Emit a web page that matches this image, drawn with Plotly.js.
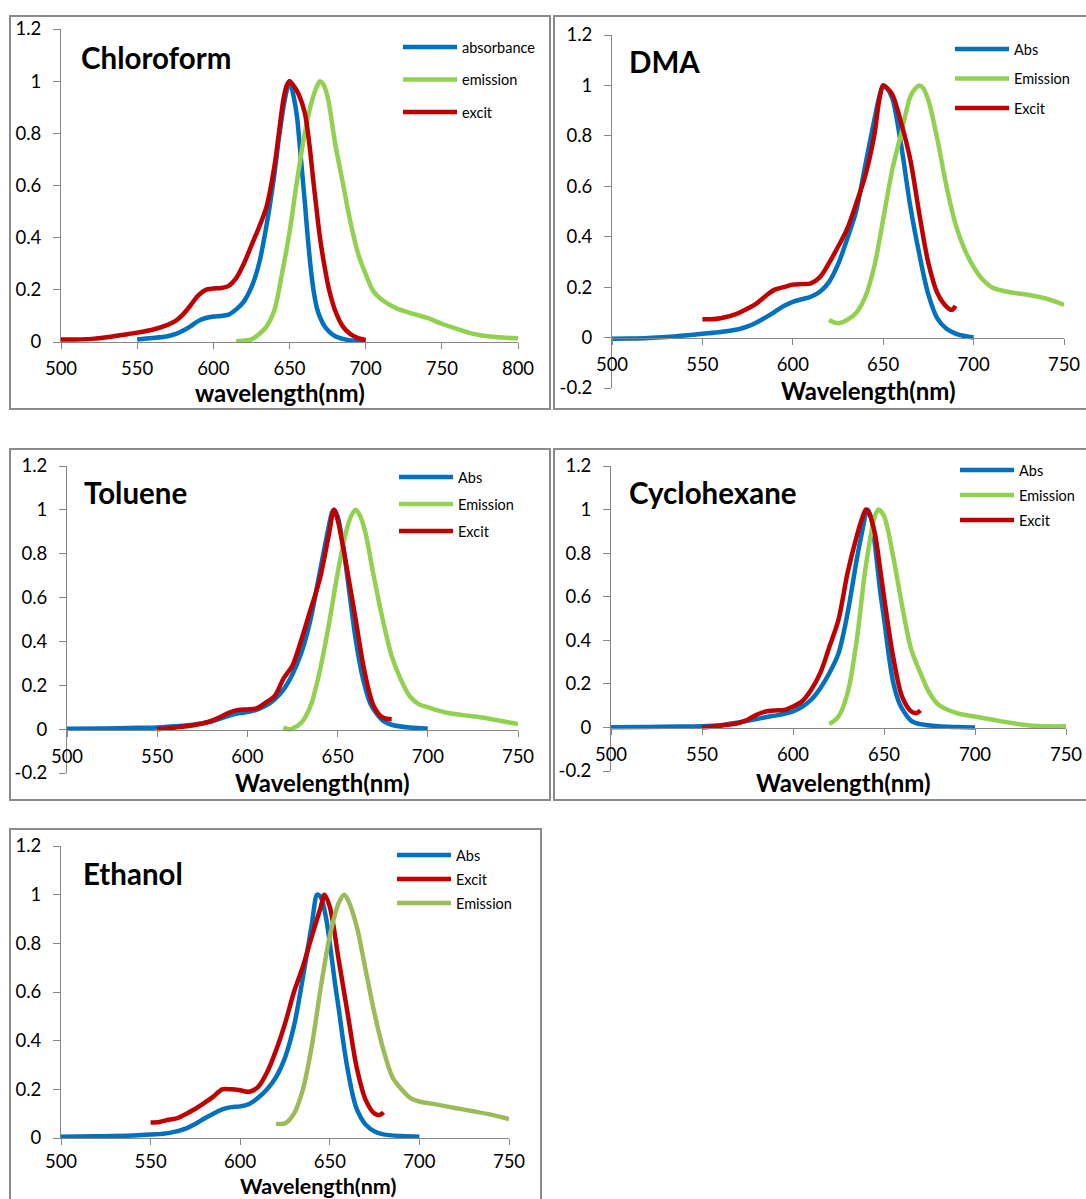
<!DOCTYPE html>
<html><head><meta charset="utf-8">
<script src="https://cdn.plot.ly/plotly-3.0.1.min.js"></script>
<style>html,body{margin:0;padding:0;background:#fff}#chart{width:1086px;height:1199px}</style>
</head><body><div id="chart"></div>
<script>
// ---------------- DATA ----------------
const panelNames = ['Chloroform', 'DMA', 'Toluene', 'Cyclohexane', 'Ethanol'];
const xTitles = ['wavelength(nm)', 'Wavelength(nm)', 'Wavelength(nm)', 'Wavelength(nm)', 'Wavelength(nm)'];

const yTickValsPos = [0, 0.2, 0.4, 0.6, 0.8, 1, 1.2];
const yTickTextPos = ['0', '0.2', '0.4', '0.6', '0.8', '1', '1.2'];
const yTickValsNeg = [-0.2, 0, 0.2, 0.4, 0.6, 0.8, 1, 1.2];
const yTickTextNeg = ['-0.2', '0', '0.2', '0.4', '0.6', '0.8', '1', '1.2'];

// Chloroform
const chlAbsX = [550,560,570,575,580,585,590,595,600,605,610,615,620,625,630,635,640,643,646,648,650,652,655,656,658,660,662,664,666,668,670,673,676,680,685,690,695,700];
const chlAbsY = [0.01,0.015,0.022,0.03,0.043,0.06,0.08,0.092,0.098,0.1,0.105,0.125,0.155,0.21,0.3,0.45,0.64,0.78,0.9,0.96,1.0,0.96,0.86,0.8,0.67,0.54,0.4,0.28,0.19,0.13,0.095,0.06,0.04,0.022,0.012,0.006,0.003,0.0];
const chlEmX = [615,620,625,630,635,640,645,650,655,660,665,668,670,672,675,680,685,690,695,700,705,710,715,720,730,740,750,760,770,780,790,800];
const chlEmY = [0.003,0.005,0.01,0.03,0.06,0.12,0.26,0.42,0.62,0.8,0.93,0.98,1.0,0.99,0.94,0.76,0.61,0.46,0.34,0.26,0.195,0.165,0.145,0.13,0.11,0.093,0.07,0.05,0.032,0.022,0.017,0.014];
const chlExX = [500,510,520,530,540,550,560,570,575,580,585,590,595,600,605,610,615,620,625,630,635,640,643,646,648,650,653,656,660,663,666,670,673,676,680,685,690,695,700];
const chlExY = [0.01,0.01,0.012,0.018,0.027,0.036,0.047,0.066,0.08,0.105,0.14,0.178,0.2,0.205,0.207,0.215,0.245,0.3,0.37,0.44,0.52,0.67,0.8,0.93,0.98,1.0,0.98,0.95,0.88,0.76,0.6,0.4,0.29,0.2,0.12,0.06,0.03,0.015,0.008];

// DMA
const dmaAbsX = [500,510,520,530,540,550,560,570,575,580,585,590,595,600,605,610,615,620,625,630,635,640,645,648,650,652,655,660,665,670,675,680,685,690,695,700];
const dmaAbsY = [-0.005,-0.004,-0.002,0.002,0.008,0.015,0.022,0.033,0.044,0.06,0.08,0.102,0.125,0.142,0.152,0.162,0.182,0.22,0.29,0.39,0.5,0.68,0.86,0.96,1.0,0.99,0.95,0.76,0.52,0.33,0.17,0.075,0.035,0.016,0.006,0.0];
const dmaEmX = [620,625,630,635,640,645,650,655,660,665,668,670,672,675,680,685,690,695,700,705,710,720,730,740,750];
const dmaEmY = [0.07,0.057,0.07,0.097,0.16,0.28,0.47,0.665,0.81,0.956,0.99,1.0,0.99,0.94,0.785,0.6,0.45,0.35,0.28,0.23,0.2,0.18,0.17,0.155,0.13];
const dmaExX = [550,555,560,565,570,575,580,585,590,595,600,605,610,615,620,625,630,635,640,645,648,650,652,655,660,665,670,675,680,685,688,690];
const dmaExY = [0.073,0.073,0.077,0.085,0.097,0.115,0.136,0.165,0.19,0.2,0.21,0.212,0.215,0.24,0.295,0.36,0.43,0.53,0.64,0.8,0.95,1.0,0.99,0.965,0.85,0.705,0.49,0.295,0.176,0.123,0.11,0.126];

// Toluene
const tolAbsX = [500,520,540,550,560,570,580,585,590,595,600,605,610,615,620,625,630,635,640,645,647,648,650,653,655,658,660,663,665,668,670,675,680,690,700];
const tolAbsY = [0.002,0.003,0.006,0.008,0.013,0.02,0.035,0.048,0.062,0.072,0.078,0.088,0.106,0.135,0.18,0.25,0.35,0.5,0.71,0.92,0.99,1.0,0.97,0.84,0.72,0.53,0.41,0.27,0.2,0.12,0.09,0.04,0.02,0.007,0.002];
const tolEmX = [620,623,625,630,635,640,645,650,655,658,660,662,665,670,675,680,685,690,695,700,710,720,730,740,750];
const tolEmY = [0.008,0.0,0.003,0.03,0.106,0.26,0.47,0.71,0.91,0.98,1.0,0.98,0.91,0.7,0.5,0.333,0.227,0.15,0.114,0.1,0.076,0.064,0.053,0.038,0.023];
const tolExX = [550,555,560,565,570,575,580,585,590,595,600,605,610,615,620,625,630,635,640,645,648,650,655,660,665,670,675,680];
const tolExY = [0.0,0.003,0.008,0.012,0.018,0.026,0.038,0.055,0.076,0.088,0.09,0.095,0.12,0.15,0.23,0.29,0.41,0.545,0.68,0.88,1.0,0.955,0.74,0.5,0.26,0.106,0.053,0.045];

// Cyclohexane
const cycAbsX = [500,520,540,550,560,570,580,585,590,595,600,605,610,615,620,625,630,635,638,640,641,643,645,648,650,653,655,658,660,665,670,680,690,700];
const cycAbsY = [0.001,0.002,0.004,0.005,0.01,0.023,0.038,0.047,0.054,0.062,0.074,0.095,0.127,0.18,0.25,0.34,0.525,0.77,0.9,0.98,1.0,0.96,0.84,0.62,0.5,0.31,0.21,0.12,0.085,0.03,0.015,0.005,0.002,0.0];
const cycEmX = [620,625,630,635,640,645,647,650,655,660,665,670,675,680,690,700,710,720,730,740,750];
const cycEmY = [0.015,0.05,0.158,0.4,0.74,0.97,1.0,0.97,0.786,0.556,0.357,0.25,0.158,0.104,0.066,0.05,0.035,0.02,0.009,0.005,0.005];
const cycExX = [550,555,560,565,570,575,580,585,590,595,600,605,610,615,620,625,630,635,638,640,642,645,648,650,655,660,665,668,670];
const cycExY = [0.0,0.003,0.008,0.013,0.02,0.035,0.058,0.073,0.078,0.08,0.096,0.12,0.173,0.25,0.37,0.495,0.71,0.877,0.96,1.0,0.98,0.89,0.72,0.6,0.326,0.14,0.073,0.066,0.078];

// Ethanol
const ethAbsX = [500,520,540,550,560,570,575,580,585,590,595,600,605,610,615,620,625,630,635,640,643,645,648,650,653,655,658,660,663,665,670,675,680,690,700];
const ethAbsY = [0.005,0.007,0.01,0.014,0.02,0.04,0.058,0.08,0.1,0.118,0.127,0.13,0.14,0.165,0.2,0.25,0.33,0.46,0.66,0.88,1.0,0.99,0.9,0.8,0.63,0.53,0.37,0.28,0.17,0.12,0.055,0.027,0.015,0.008,0.005];
const ethExX = [550,555,560,565,570,575,580,585,590,595,600,605,610,615,620,625,630,635,640,645,647,650,655,660,665,670,675,678,680];
const ethExY = [0.064,0.066,0.075,0.082,0.1,0.12,0.144,0.17,0.2,0.2,0.196,0.19,0.21,0.27,0.36,0.47,0.6,0.705,0.83,0.95,1.0,0.95,0.73,0.51,0.29,0.157,0.1,0.095,0.105];
const ethEmX = [620,625,630,635,640,645,650,655,658,660,665,670,675,680,685,690,695,700,710,720,730,740,750];
const ethEmY = [0.059,0.06,0.1,0.2,0.38,0.62,0.83,0.966,1.0,0.98,0.87,0.69,0.51,0.36,0.25,0.2,0.164,0.15,0.137,0.123,0.11,0.096,0.078];

// ---------------- STYLE / LAYOUT ----------------
const W = 1086, H = 1199;
const PX = v => v / W, PY = v => 1 - v / H;
const FONT = 'Lato, "Open Sans", sans-serif';
const BLUE = '#0070C0', GREEN = '#92D050', RED = '#C00000', OLIVE = '#9BBB59';
const AXC = '#868686';

// geometry per panel (pixels)
const geo = [
  {l:61,  r:518,  t:29,  b:342,  yr:[0,1.2],   xr:[500,800], ax0:342,  neg:false, box:[10,16,550,409],   tx:79,  ty:57,  atx:280, aty:392,  ats:24,   so:4, lg:[398,31,10.7]},
  {l:612, r:1064, t:35,  b:388,  yr:[-0.2,1.2],xr:[500,750], ax0:338,  neg:true,  box:[554,16,1090,409], tx:627, ty:62,  atx:868, aty:391,  ats:24,   so:4, lg:[950,33,7.7]},
  {l:67,  r:518,  t:466, b:773,  yr:[-0.2,1.2],xr:[500,750], ax0:730,  neg:true,  box:[10,449,550,800],  tx:82,  ty:492, atx:322, aty:782,  ats:24,   so:4, lg:[394,461,5.2]},
  {l:611, r:1066, t:466, b:771,  yr:[-0.2,1.2],xr:[500,750], ax0:728,  neg:true,  box:[554,449,1090,800],tx:627, ty:492, atx:843, aty:782,  ats:24,   so:4, lg:[955,454,3.2]},
  {l:61,  r:509,  t:846, b:1138, yr:[0,1.2],   xr:[500,750], ax0:1138, neg:false, box:[10,829,541,1210], tx:81,  ty:873, atx:318, aty:1186, ats:21.5, so:1, lg:[392,839,2.2]}
];

const seriesSets = [
  [{n:'absorbance', x:chlAbsX, y:chlAbsY, c:BLUE}, {n:'emission', x:chlEmX, y:chlEmY, c:GREEN}, {n:'excit', x:chlExX, y:chlExY, c:RED}],
  [{n:'Abs', x:dmaAbsX, y:dmaAbsY, c:BLUE}, {n:'Emission', x:dmaEmX, y:dmaEmY, c:GREEN}, {n:'Excit', x:dmaExX, y:dmaExY, c:RED}],
  [{n:'Abs', x:tolAbsX, y:tolAbsY, c:BLUE}, {n:'Emission', x:tolEmX, y:tolEmY, c:GREEN}, {n:'Excit', x:tolExX, y:tolExY, c:RED}],
  [{n:'Abs', x:cycAbsX, y:cycAbsY, c:BLUE}, {n:'Emission', x:cycEmX, y:cycEmY, c:GREEN}, {n:'Excit', x:cycExX, y:cycExY, c:RED}],
  [{n:'Abs', x:ethAbsX, y:ethAbsY, c:BLUE}, {n:'Excit', x:ethExX, y:ethExY, c:RED}, {n:'Emission', x:ethEmX, y:ethEmY, c:OLIVE}]
];

const traces = [];
const layout = {
  width: W, height: H,
  margin: {l:0, r:0, t:0, b:0},
  paper_bgcolor: '#fff', plot_bgcolor: 'rgba(0,0,0,0)',
  font: {family: FONT, color: '#000'},
  showlegend: true,
  shapes: [], annotations: []
};

geo.forEach((g, i) => {
  const k = i === 0 ? '' : String(i + 1);
  const legKey = i === 0 ? 'legend' : 'legend' + (i + 1);
  seriesSets[i].forEach((s, j) => {
    traces.push({
      type: 'scatter', mode: 'lines', name: s.n, x: s.x, y: s.y,
      xaxis: 'x' + k, yaxis: 'y' + k,
      line: {color: s.c, width: 4.5, shape: 'spline', smoothing: 0.9},
      legend: legKey, legendgroup: 'g' + i + '_' + j,
      hoverinfo: 'skip'
    });
  });
  const ydom = [PY(g.b), PY(g.t)];
  const xax = {
    domain: [PX(g.l), PX(g.r)], range: g.xr, tick0: 500, dtick: 50,
    showline: true, linecolor: AXC, linewidth: 1, showgrid: false, zeroline: false,
    ticks: 'outside', ticklen: 6, tickcolor: AXC, tickwidth: 1,
    tickfont: {family: FONT, size: 18.5, color: '#000'}, ticklabelstandoff: g.so,
    fixedrange: true
  };
  if (g.neg) { xax.anchor = 'free'; xax.position = PY(g.ax0); } else { xax.anchor = 'y' + k; }
  const yax = {
    domain: ydom, range: g.yr, anchor: 'x' + k,
    tickvals: g.neg ? yTickValsNeg : yTickValsPos, ticktext: g.neg ? yTickTextNeg : yTickTextPos,
    showline: true, linecolor: AXC, linewidth: 1, showgrid: false, zeroline: false,
    ticks: 'outside', ticklen: 7, tickcolor: AXC, tickwidth: 1,
    tickfont: {family: FONT, size: 18.5, color: '#000'}, ticklabelstandoff: 8,
    fixedrange: true
  };
  layout['xaxis' + k] = xax;
  layout['yaxis' + k] = yax;
  layout[legKey] = {
    x: PX(g.lg[0]), y: PY(g.lg[1]), xanchor: 'left', yanchor: 'top',
    bgcolor: 'rgba(0,0,0,0)', borderwidth: 0, itemwidth: 54,
    tracegroupgap: g.lg[2], font: {family: FONT, size: 14.5, color: '#000'},
    itemclick: false, itemdoubleclick: false
  };
  const b = g.box;
  layout.shapes.push({type: 'rect', xref: 'paper', yref: 'paper', x0: PX(b[0]), x1: PX(b[2]), y0: PY(b[3]), y1: PY(b[1]),
    line: {color: '#8c8c8c', width: 2}, fillcolor: 'rgba(0,0,0,0)', layer: 'below'});
  layout.annotations.push({xref: 'paper', yref: 'paper', x: PX(g.tx), y: PY(g.ty), xanchor: 'left', yanchor: 'middle',
    text: panelNames[i], showarrow: false, font: {family: FONT, size: 29.5, weight: 'bold', color: '#000'}});
  layout.annotations.push({xref: 'paper', yref: 'paper', x: PX(g.atx), y: PY(g.aty), xanchor: 'center', yanchor: 'middle',
    text: xTitles[i], showarrow: false, borderpad: 0, font: {family: FONT, size: g.ats, weight: 'bold', color: '#000'}});
});

Plotly.newPlot('chart', traces, layout, {displayModeBar: false, staticPlot: true});
</script>
</body></html>
